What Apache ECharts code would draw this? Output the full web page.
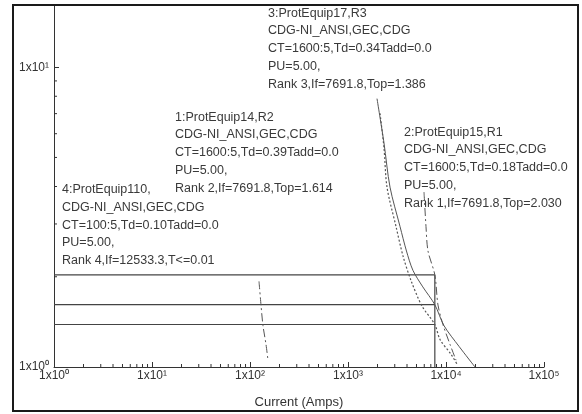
<!DOCTYPE html>
<html>
<head>
<meta charset="utf-8">
<script src="https://cdn.jsdelivr.net/npm/echarts@6/dist/echarts.min.js"></script>
<style>
  html, body { margin: 0; padding: 0; background: #fff; }
  #chart { width: 582px; height: 414px; }
</style>
</head>
<body>
<div id="chart"></div>
<script>
// Axis ticks (current in amps, time in seconds)
const xTicks = [1, 10, 100, 1000, 10000, 100000];
const xTickLabels = ['1x10⁰', '1x10¹', '1x10²', '1x10³', '1x10⁴', '1x10⁵'];
const yTicks = [1, 10];
const yTickLabels = ['1x10⁰', '1x10¹'];
const xMinorTicks = [
  2, 3, 4, 5, 6, 7, 8, 9,
  20, 30, 40, 50, 60, 70, 80, 90,
  200, 300, 400, 500, 600, 700, 800, 900,
  2000, 3000, 4000, 5000, 6000, 7000, 8000, 9000,
  20000, 30000, 40000, 50000, 60000, 70000, 80000, 90000
];
const yMinorTicks = [2, 3, 4, 5, 6, 7, 8, 9];

// Fault current and operating times by rank
const faultCurrent = 7691.8;
const topRank1 = 2.030;
const topRank2 = 1.614;
const topRank3 = 1.386;

// Relay time-current curves [current, time]
const curveEquip14 = [
  [1977, 7.855], [2329, 5.591], [2683, 3.981], [3394, 2.943], [3950, 2.437],
  [4600, 2.10], [5800, 1.85], [7691.8, 1.614], [9550, 1.373], [13572, 1.172], [19766, 1.0]
];
const curveEquip17 = [
  [2121, 7.014], [2329, 5.385], [2500, 3.981], [3089, 2.943], [3640, 2.347],
  [4395, 1.943], [5689, 1.597], [7691.8, 1.386], [8685, 1.235], [11247, 1.103], [12946, 1.023]
];
const curveEquip15 = [
  [5964, 3.833], [6250, 2.943], [6551, 2.437], [7691.8, 2.030], [8285, 1.609],
  [9320, 1.384], [10985, 1.190], [12647, 1.054]
];
const curveEquip110 = [
  [123.6, 1.930], [129.5, 1.609], [135.7, 1.373], [145.6, 1.190], [152.6, 1.054]
];

// Relay annotation text
const noteEquip17 = ['3:ProtEquip17,R3', 'CDG-NI_ANSI,GEC,CDG', 'CT=1600:5,Td=0.34Tadd=0.0', 'PU=5.00,',
  'Rank 3,If=' + faultCurrent + ',Top=' + topRank3.toFixed(3)];
const noteEquip14 = ['1:ProtEquip14,R2', 'CDG-NI_ANSI,GEC,CDG', 'CT=1600:5,Td=0.39Tadd=0.0', 'PU=5.00,',
  'Rank 2,If=' + faultCurrent + ',Top=' + topRank2.toFixed(3)];
const noteEquip15 = ['2:ProtEquip15,R1', 'CDG-NI_ANSI,GEC,CDG', 'CT=1600:5,Td=0.18Tadd=0.0', 'PU=5.00,',
  'Rank 1,If=' + faultCurrent + ',Top=' + topRank1.toFixed(3)];
const noteEquip110 = ['4:ProtEquip110,', 'CDG-NI_ANSI,GEC,CDG', 'CT=100:5,Td=0.10Tadd=0.0', 'PU=5.00,',
  'Rank 4,If=12533.3,T<=0.01'];

const axisName = 'Current (Amps)';

const ink = '#333';
const textInk = '#3a3a3a';
const curveInk = '#555';
const textFont = '12.5px "Liberation Sans", Arial, sans-serif';

function powLabel(labels) {
  return function (v) {
    const e = Math.round(Math.log10(v));
    return (Math.abs(Math.log10(v) - e) < 1e-6 && labels[e] !== undefined) ? labels[e] : '';
  };
}

function note(lines, x, y) {
  return {
    type: 'text', left: x, top: y, silent: true,
    style: { text: lines.join('\n'), font: textFont, fill: textInk, lineHeight: 17.8 }
  };
}

function minorTickSeries(values, vertical) {
  return {
    type: 'custom', silent: true, clip: false, z: 3,
    data: values.map(v => vertical ? [1, v] : [v, 1]),
    renderItem: function (params, api) {
      const p = api.coord([api.value(0), api.value(1)]);
      return {
        type: 'line',
        shape: vertical
          ? { x1: p[0], y1: p[1], x2: p[0] + 3, y2: p[1] }
          : { x1: p[0], y1: p[1], x2: p[0], y2: p[1] - 3 },
        style: { stroke: ink, lineWidth: 1 }
      };
    }
  };
}

function curve(data, type, width) {
  return {
    type: 'line', data: data, showSymbol: false, smooth: 0.3, silent: true,
    lineStyle: { color: curveInk, width: width, type: type }
  };
}

function segment(data) {
  return {
    type: 'line', data: data, showSymbol: false, silent: true,
    lineStyle: { color: '#444', width: 1.2 }
  };
}

const chart = echarts.init(document.getElementById('chart'), null, { renderer: 'canvas' });
chart.setOption({
  backgroundColor: '#fff',
  animation: false,
  grid: { left: 54, right: 38, top: 6, bottom: 41, containLabel: false },
  xAxis: {
    type: 'log', logBase: 10, min: 1, max: 100000,
    name: axisName, nameLocation: 'middle', nameGap: 29,
    nameTextStyle: { color: ink, fontSize: 13, fontFamily: '"Liberation Sans", Arial' },
    axisLine: { lineStyle: { color: ink, width: 1 } },
    axisTick: { inside: true, length: 5, customValues: xTicks, lineStyle: { color: ink } },
    axisLabel: {
      customValues: xTicks, formatter: powLabel(xTickLabels), margin: 3,
      color: ink, fontSize: 12, fontFamily: '"Liberation Sans", Arial'
    },
    splitLine: { show: false }, minorTick: { show: false }
  },
  yAxis: {
    type: 'log', logBase: 10, min: 1, max: 16,
    axisLine: { lineStyle: { color: ink, width: 1 } },
    axisTick: { inside: true, length: 5, customValues: yTicks, lineStyle: { color: ink } },
    axisLabel: {
      customValues: yTicks, formatter: powLabel(yTickLabels), margin: 5,
      color: ink, fontSize: 12, fontFamily: '"Liberation Sans", Arial'
    },
    splitLine: { show: false }, minorTick: { show: false }
  },
  series: [
    minorTickSeries(xMinorTicks, false),
    minorTickSeries(yMinorTicks, true),
    segment([[1, topRank1], [faultCurrent, topRank1]]),
    segment([[1, topRank2], [faultCurrent, topRank2]]),
    segment([[1, topRank3], [faultCurrent, topRank3]]),
    segment([[faultCurrent, 1], [faultCurrent, topRank1]]),
    curve(curveEquip14, 'solid', 1),
    curve(curveEquip17, [2, 2], 1.2),
    curve(curveEquip15, [8, 3, 2, 3], 1),
    curve(curveEquip110, [8, 3, 2, 3], 1)
  ],
  graphic: [
    {
      type: 'rect', silent: true, z: 100,
      shape: { x: 13, y: 5, width: 565, height: 406 },
      style: { fill: 'none', stroke: '#1a1a1a', lineWidth: 2 }
    },
    note(noteEquip17, 268, 4.2),
    note(noteEquip14, 175, 108.2),
    note(noteEquip15, 404, 123.2),
    note(noteEquip110, 62, 180.7)
  ]
});
</script>
</body>
</html>
